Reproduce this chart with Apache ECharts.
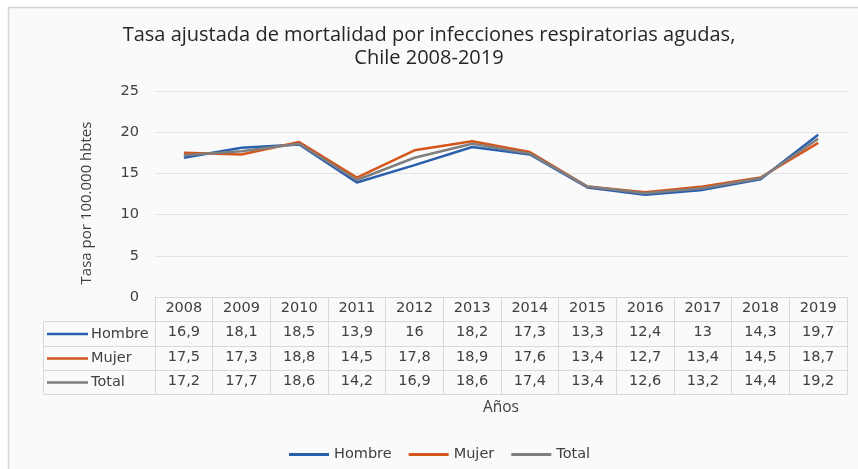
<!DOCTYPE html>
<html><head><meta charset="utf-8">
<script src="https://cdn.jsdelivr.net/npm/echarts@6/dist/echarts.min.js"></script>
<style>html,body{margin:0;padding:0;background:#fff}#c{width:858px;height:469px}</style>
</head><body><div id="c"></div>
<script>
const years = ['2008','2009','2010','2011','2012','2013','2014','2015','2016','2017','2018','2019'];
const hombre = [16.9,18.1,18.5,13.9,16,18.2,17.3,13.3,12.4,13,14.3,19.7];
const mujer  = [17.5,17.3,18.8,14.5,17.8,18.9,17.6,13.4,12.7,13.4,14.5,18.7];
const total  = [17.2,17.7,18.6,14.2,16.9,18.6,17.4,13.4,12.6,13.2,14.4,19.2];
const names = ['Hombre','Mujer','Total'];
const colors = ['#2a5fae','#d4561c','#7f7f7f'];
const rows = [hombre, mujer, total];
const yTicks = [0,5,10,15,20,25];

const fmt = v => String(v).replace('.', ',');
const TXT = '#404040';
const LINE = '#d9d9d9';
const tableFont = 'DejaVu Sans';
const TFS = 14.5;

const chart = echarts.init(document.getElementById('c'));

const rowOffsets = [24, 49, 73];
const xAxes = [{
  type:'category', data: years, boundaryGap:true, gridIndex:0, position:'bottom',
  axisLine:{show:true, lineStyle:{color:LINE, width:1}},
  axisTick:{show:true, length:97, interval:0, lineStyle:{color:LINE}},
  axisLabel:{interval:0, margin:4, color:TXT, fontFamily:tableFont, fontSize:TFS}
}];
rows.forEach((r, k) => {
  xAxes.push({
    type:'category', data: years, boundaryGap:true, position:'bottom', offset: rowOffsets[k],
    axisLine:{show:true, lineStyle:{color:LINE, width:1}},
    axisTick:{show:false},
    axisLabel:{interval:0, margin:4, color:TXT, fontFamily:tableFont, fontSize:TFS,
      formatter:(v, i) => fmt(r[i])}
  });
});
xAxes.push({
  type:'category', data: years, boundaryGap:true, position:'bottom', offset: 97,
  axisLine:{show:true, lineStyle:{color:LINE, width:1}},
  axisTick:{show:false}, axisLabel:{show:false},
  name:'Años', nameLocation:'middle', nameGap:6,
  nameTextStyle:{color:TXT, fontFamily:'Open Sans', fontSize:15.5, verticalAlign:'top'}
});

// left column of table
const gx0 = 43, gx1 = 155;
const lineYs = [321, 346, 370, 394];
const graphics = [
  {type:'rect', shape:{x:0,y:0,width:858,height:7}, style:{fill:'#fff'}},
  {type:'rect', shape:{x:0,y:0,width:8,height:469}, style:{fill:'#fff'}},
  {type:'line', shape:{x1:8,y1:7.5,x2:858,y2:7.5}, style:{stroke:'#d4d4d4', lineWidth:1.5}},
  {type:'line', shape:{x1:8.5,y1:7,x2:8.5,y2:469}, style:{stroke:'#d4d4d4', lineWidth:1.5}},
  {type:'line', shape:{x1:gx0+0.5,y1:lineYs[0],x2:gx0+0.5,y2:lineYs[3]}, style:{stroke:LINE, lineWidth:1}}
];
lineYs.forEach(y => graphics.push({type:'line', shape:{x1:gx0,y1:y+0.5,x2:gx1,y2:y+0.5}, style:{stroke:LINE, lineWidth:1}}));
names.forEach((n, k) => {
  const yc = (lineYs[k] + lineYs[k+1]) / 2 + 0.5;
  graphics.push({type:'line', shape:{x1:47,y1:yc,x2:88,y2:yc}, style:{stroke:colors[k], lineWidth:2.5}});
  graphics.push({type:'text', x:91, y:yc, style:{text:n, fill:TXT, font:TFS + 'px "DejaVu Sans"', textVerticalAlign:'middle', textAlign:'left'}});
});

chart.setOption({
  backgroundColor:'#fafafa',
  animation:false,
  title:{
    text:'Tasa ajustada de mortalidad por infecciones respiratorias agudas,\nChile 2008-2019',
    left:'center', top:19,
    textStyle:{color:'#262626', fontFamily:'Open Sans', fontSize:20, fontWeight:'normal', lineHeight:23}
  },
  legend:{
    data:names, left:289, top:447, padding:0, itemWidth:40, itemHeight:3, itemGap:17, icon:'rect',
    textStyle:{color:TXT, fontFamily:'DejaVu Sans', fontSize:14.5}
  },
  grid:{left:155, right:11, top:91, bottom:172, containLabel:false},
  xAxis: xAxes,
  yAxis:{
    type:'value', min:0, max:25, interval:5,
    axisLine:{show:false}, axisTick:{show:false},
    splitLine:{lineStyle:{color:'#e3e3e3', width:1}},
    axisLabel:{margin:16, color:TXT, fontFamily:tableFont, fontSize:TFS,
      formatter: v => yTicks.includes(v) ? String(v) : ''},
    name:'Tasa por 100.000 hbtes', nameLocation:'middle', nameGap:61, nameRotate:90,
    nameTextStyle:{color:TXT, fontFamily:'Open Sans', fontSize:15, padding:[0,18,0,0]}
  },
  graphic: graphics,
  series: rows.map((r, k) => ({
    name:names[k], type:'line', data:r, xAxisIndex:0, symbol:'none',
    lineStyle:{color:colors[k], width:2.5}, itemStyle:{color:colors[k]}, z: 2 + k
  }))
});
</script></body></html>
